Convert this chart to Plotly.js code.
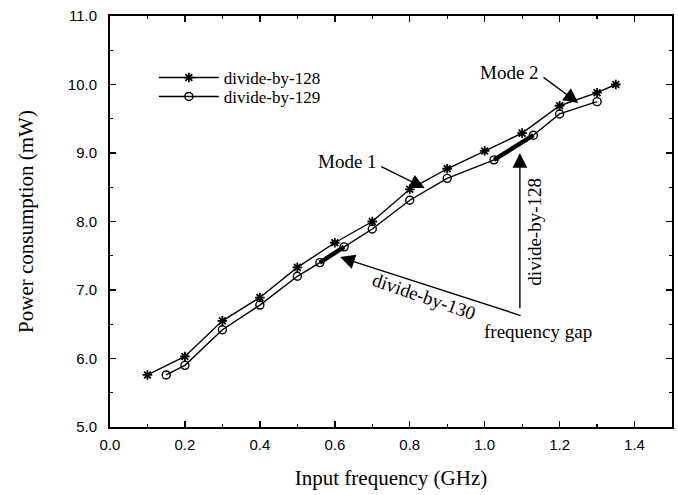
<!DOCTYPE html>
<html>
<head>
<meta charset="utf-8">
<script src="https://cdn.plot.ly/plotly-3.0.1.min.js"></script>
<style>html,body{margin:0;padding:0;background:#fff;}#chart{width:678px;height:495px;}</style>
</head>
<body>
<div id="chart"></div>
<script>
// divide-by-128 series (asterisk markers)
var freq128 = [0.1, 0.2, 0.3, 0.4, 0.5, 0.6, 0.7, 0.8, 0.9, 1.0, 1.1, 1.2, 1.3, 1.35];
var power128 = [5.76, 6.03, 6.55, 6.89, 7.33, 7.69, 8.0, 8.47, 8.77, 9.03, 9.29, 9.69, 9.88, 10.0];
// divide-by-129 series (circle markers)
var freq129 = [0.15, 0.2, 0.3, 0.4, 0.5, 0.56, 0.625, 0.7, 0.8, 0.9, 1.025, 1.13, 1.2, 1.3];
var power129 = [5.76, 5.90, 6.42, 6.78, 7.20, 7.40, 7.63, 7.89, 8.31, 8.63, 8.90, 9.26, 9.57, 9.75];
// frequency-gap segments (indices into the divide-by-129 series)
var gap130 = [5, 6];
var gap128 = [10, 11];

var xTicks = [0.0, 0.2, 0.4, 0.6, 0.8, 1.0, 1.2, 1.4];
var xTickLabels = ['0.0', '0.2', '0.4', '0.6', '0.8', '1.0', '1.2', '1.4'];
var yTicks = [5, 6, 7, 8, 9, 10, 11];
var yTickLabels = ['5.0', '6.0', '7.0', '8.0', '9.0', '10.0', '11.0'];

var serif = 'Liberation Serif, Times New Roman, serif';
var sans = 'Liberation Sans, Arial, sans-serif';

function seg(idx, arr) { return idx.map(function (i) { return arr[i]; }); }

var traces = [
  {
    x: freq128, y: power128, name: 'divide-by-128', type: 'scatter', mode: 'lines+markers',
    legend: 'legend',
    line: {color: '#000', width: 1.4},
    marker: {symbol: 'asterisk-open', size: 8, color: '#000', line: {color: '#000', width: 1.8}}
  },
  {
    x: freq129, y: power129, name: 'divide-by-129', type: 'scatter', mode: 'lines+markers',
    legend: 'legend2',
    line: {color: '#000', width: 1.4},
    marker: {symbol: 'circle-open', size: 8, color: '#000', line: {color: '#000', width: 1.4}}
  },
  {
    x: seg(gap130, freq129), y: seg(gap130, power129), type: 'scatter', mode: 'lines',
    line: {color: '#000', width: 4.5}, showlegend: false, hoverinfo: 'skip'
  },
  {
    x: seg(gap128, freq129), y: seg(gap128, power129), type: 'scatter', mode: 'lines',
    line: {color: '#000', width: 4.5}, showlegend: false, hoverinfo: 'skip'
  }
];

function arrow(tx, ty, hx, hy) {
  return {x: hx, y: hy, ax: tx, ay: ty, xref: 'x', yref: 'y', axref: 'x', ayref: 'y',
    text: '', showarrow: true, arrowhead: 2, arrowsize: 2.1, arrowwidth: 1.4, arrowcolor: '#000', standoff: 0, startstandoff: 0};
}
function label(x, y, t, ang) {
  return {x: x, y: y, xref: 'x', yref: 'y', text: t, showarrow: false, textangle: ang || 0,
    font: {family: serif, size: 19, color: '#000'}};
}

var annotations = [
  arrow(0.72, 8.81, 0.84, 8.49),
  label(0.633, 8.87, 'Mode 1'),
  arrow(1.153, 10.12, 1.25, 9.73),
  label(1.067, 10.18, 'Mode 2'),
  arrow(1.094, 6.71, 1.094, 9.0),
  label(1.134, 7.85, 'divide-by-128', -90),
  arrow(1.10, 6.62, 0.614, 7.48),
  label(0.838, 6.90, 'divide-by-130', 19),
  label(1.142, 6.39, 'frequency gap')
];

var legendBase = {xanchor: 'left', yanchor: 'top', bgcolor: 'rgba(0,0,0,0)',
  font: {family: serif, size: 17, color: '#000'}, itemwidth: 60};

var layout = {
  width: 678, height: 495,
  margin: {l: 110, r: 6, t: 16, b: 68},
  paper_bgcolor: '#fff', plot_bgcolor: '#fff',
  showlegend: true,
  legend: Object.assign({x: 0.078, y: 0.893}, legendBase),
  legend2: Object.assign({x: 0.078, y: 0.847}, legendBase),
  xaxis: {
    range: [0, 1.5], tickmode: 'array', tickvals: xTicks, ticktext: xTickLabels,
    ticks: 'inside', ticklen: 6, tickwidth: 1.5, tickcolor: '#000',
    minor: {dtick: 0.1, ticks: 'inside', ticklen: 3, tickwidth: 1.2, tickcolor: '#000'},
    showline: true, linecolor: '#000', linewidth: 2, mirror: 'ticks',
    showgrid: false, zeroline: false,
    tickfont: {family: sans, size: 15, color: '#000'}, ticklabelstandoff: 3,
    title: {text: 'Input frequency (GHz)', font: {family: serif, size: 21, color: '#000'}, standoff: 18}
  },
  yaxis: {
    range: [5, 11], tickmode: 'array', tickvals: yTicks, ticktext: yTickLabels,
    ticks: 'inside', ticklen: 6, tickwidth: 1.5, tickcolor: '#000',
    minor: {dtick: 0.5, ticks: 'inside', ticklen: 3, tickwidth: 1.2, tickcolor: '#000'},
    showline: true, linecolor: '#000', linewidth: 2, mirror: 'ticks',
    showgrid: false, zeroline: false,
    tickfont: {family: sans, size: 15, color: '#000'}, ticklabelstandoff: 8,
    title: {text: 'Power consumption (mW)', font: {family: serif, size: 21, color: '#000'}, standoff: 28}
  },
  annotations: annotations
};

Plotly.newPlot('chart', traces, layout, {displayModeBar: false, staticPlot: true});
</script>
</body>
</html>
